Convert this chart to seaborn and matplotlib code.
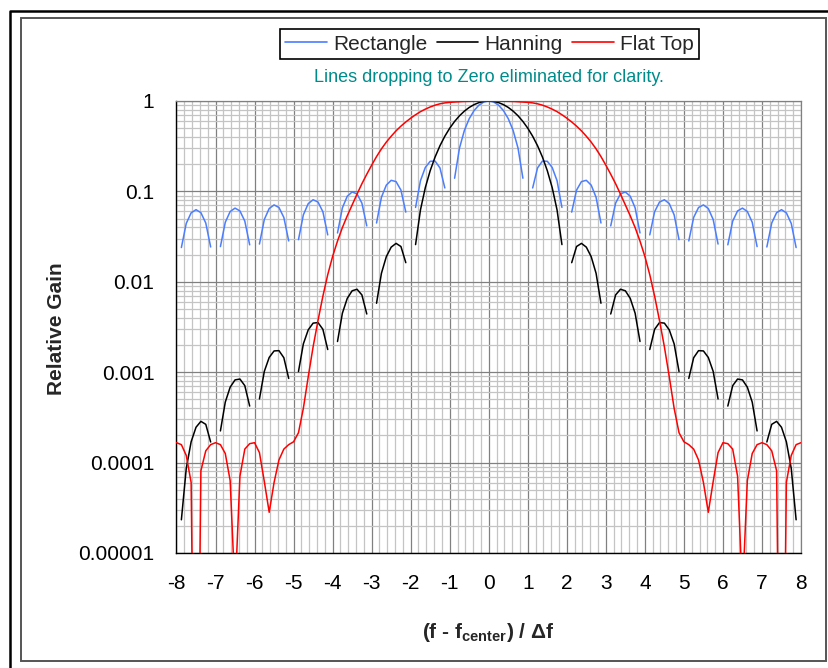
import numpy as np
import pandas as pd
import matplotlib
matplotlib.use("Agg")
import matplotlib.pyplot as plt
import seaborn as sns
from matplotlib.ticker import FixedLocator, MultipleLocator, LogLocator, NullFormatter
from matplotlib.lines import Line2D
from matplotlib.patches import Rectangle

# ---------------- data ----------------
freq = [
    -8.0, -7.875, -7.75, -7.625, -7.5, -7.375, -7.25, -7.125,
    -7.0, -6.875, -6.75, -6.625, -6.5, -6.375, -6.25, -6.125,
    -6.0, -5.875, -5.75, -5.625, -5.5, -5.375, -5.25, -5.125,
    -5.0, -4.875, -4.75, -4.625, -4.5, -4.375, -4.25, -4.125,
    -4.0, -3.875, -3.75, -3.625, -3.5, -3.375, -3.25, -3.125,
    -3.0, -2.875, -2.75, -2.625, -2.5, -2.375, -2.25, -2.125,
    -2.0, -1.875, -1.75, -1.625, -1.5, -1.375, -1.25, -1.125,
    -1.0, -0.875, -0.75, -0.625, -0.5, -0.375, -0.25, -0.125,
    0.0,
    0.125, 0.25, 0.375, 0.5, 0.625, 0.75, 0.875, 1.0,
    1.125, 1.25, 1.375, 1.5, 1.625, 1.75, 1.875, 2.0,
    2.125, 2.25, 2.375, 2.5, 2.625, 2.75, 2.875, 3.0,
    3.125, 3.25, 3.375, 3.5, 3.625, 3.75, 3.875, 4.0,
    4.125, 4.25, 4.375, 4.5, 4.625, 4.75, 4.875, 5.0,
    5.125, 5.25, 5.375, 5.5, 5.625, 5.75, 5.875, 6.0,
    6.125, 6.25, 6.375, 6.5, 6.625, 6.75, 6.875, 7.0,
    7.125, 7.25, 7.375, 7.5, 7.625, 7.75, 7.875, 8.0,
]

# None = point dropping to zero (eliminated)
rect_gain = [
    None, 0.02393, 0.04425, 0.05790, 0.06280, 0.05818, 0.04468, 0.02428,
    None, 0.02451, 0.04556, 0.05992, 0.06531, 0.06081, 0.04694, 0.02564,
    None, 0.02616, 0.04889, 0.06464, 0.07087, 0.06636, 0.05152, 0.02831,
    None, 0.02926, 0.05502, 0.07324, 0.08085, 0.07626, 0.05965, 0.03303,
    None, 0.03469, 0.06581, 0.08840, 0.09852, 0.09386, 0.07419, 0.04154,
    None, 0.0447, 0.0860, 0.1172, 0.1326, 0.1284, 0.1034, 0.0590,
    None, 0.0665, 0.1312, 0.1841, 0.2153, 0.2165, 0.1819, 0.1092,
    None, 0.1399, 0.3012, 0.4717, 0.6376, 0.7849, 0.9007, 0.9746,
    1.0,
    0.9746, 0.9007, 0.7849, 0.6376, 0.4717, 0.3012, 0.1399, None,
    0.1092, 0.1819, 0.2165, 0.2153, 0.1841, 0.1312, 0.0665, None,
    0.0590, 0.1034, 0.1284, 0.1326, 0.1172, 0.0860, 0.0447, None,
    0.04154, 0.07419, 0.09386, 0.09852, 0.08840, 0.06581, 0.03469, None,
    0.03303, 0.05965, 0.07626, 0.08085, 0.07324, 0.05502, 0.02926, None,
    0.02831, 0.05152, 0.06636, 0.07087, 0.06464, 0.04889, 0.02616, None,
    0.02564, 0.04694, 0.06081, 0.06531, 0.05992, 0.04556, 0.02451, None,
    0.02428, 0.04468, 0.05818, 0.06280, 0.05790, 0.04425, 0.02393, None,
]

hann_gain = [
    None, 0.0000233, 0.0000862, 0.000170, 0.000246, 0.000286, 0.000265, 0.000169,
    None, 0.000224, 0.000467, 0.000683, 0.000822, 0.000840, 0.000710, 0.000422,
    None, 0.000506, 0.001021, 0.001456, 0.001719, 0.001732, 0.001446, 0.000853,
    None, 0.001017, 0.002056, 0.002940, 0.003490, 0.003541, 0.002984, 0.001782,
    None, 0.002186, 0.004495, 0.006556, 0.007953, 0.008273, 0.007159, 0.004404,
    None, 0.005793, 0.01240, 0.01894, 0.02417, 0.02661, 0.02457, 0.01628,
    None, 0.02580, 0.06232, 0.1103, 0.1697, 0.2401, 0.3201, 0.4076,
    0.5, 0.5940, 0.6860, 0.7722, 0.8488, 0.9125, 0.9604, 0.9900,
    1.0,
    0.9900, 0.9604, 0.9125, 0.8488, 0.7722, 0.6860, 0.5940, 0.5,
    0.4076, 0.3201, 0.2401, 0.1697, 0.1103, 0.06232, 0.02580, None,
    0.01628, 0.02457, 0.02661, 0.02417, 0.01894, 0.01240, 0.005793, None,
    0.004404, 0.007159, 0.008273, 0.007953, 0.006556, 0.004495, 0.002186, None,
    0.001782, 0.002984, 0.003541, 0.003490, 0.002940, 0.002056, 0.001017, None,
    0.000853, 0.001446, 0.001732, 0.001719, 0.001456, 0.001021, 0.000506, None,
    0.000422, 0.000710, 0.000840, 0.000822, 0.000683, 0.000467, 0.000224, None,
    0.000169, 0.000265, 0.000286, 0.000246, 0.000170, 0.0000862, 0.0000233, None,
]

flat_gain = [
    0.000166, 0.000158, 0.000120, 0.0000603, 1e-9, 0.0000813, 0.000135, 0.000158,
    0.000166, 0.000158, 0.000126, 0.0000631, 0.0000035, 0.0000708, 0.000141, 0.000162,
    0.000166, 0.000129, 0.0000617, 0.0000282, 0.0000603, 0.000107, 0.000141, 0.000158,
    0.000170, 0.000214, 0.000398, 0.000891, 0.00191, 0.00372, 0.00692, 0.0120,
    0.0191, 0.0282, 0.0398, 0.0537, 0.0708, 0.0933, 0.1216, 0.1549,
    0.1950, 0.2427, 0.2951, 0.3508, 0.4074, 0.4677, 0.5272, 0.5861,
    0.6457, 0.7047, 0.7621, 0.8128, 0.8590, 0.8995, 0.9311, 0.9528,
    0.9661, 0.9750, 0.9817, 0.9886, 0.9920, 0.9954, 0.9977, 0.9993,
    1.0,
    0.9993, 0.9977, 0.9954, 0.9920, 0.9886, 0.9817, 0.9750, 0.9661,
    0.9528, 0.9311, 0.8995, 0.8590, 0.8128, 0.7621, 0.7047, 0.6457,
    0.5861, 0.5272, 0.4677, 0.4074, 0.3508, 0.2951, 0.2427, 0.1950,
    0.1549, 0.1216, 0.0933, 0.0708, 0.0537, 0.0398, 0.0282, 0.0191,
    0.0120, 0.00692, 0.00372, 0.00191, 0.000891, 0.000398, 0.000214, 0.000170,
    0.000158, 0.000141, 0.000107, 0.0000603, 0.0000282, 0.0000617, 0.000129, 0.000166,
    0.000162, 0.000141, 0.0000708, 0.0000035, 0.0000631, 0.000126, 0.000158, 0.000166,
    0.000158, 0.000135, 0.0000813, 1e-9, 0.0000603, 0.000120, 0.000158, 0.000166,
]

series_names = ["Rectangle", "Hanning", "Flat Top"]
series_colors = ["#4a7dff", "#000000", "#ff0000"]
x_tick_labels = ["-8", "-7", "-6", "-5", "-4", "-3", "-2", "-1", "0",
                 "1", "2", "3", "4", "5", "6", "7", "8"]
y_tick_values = [1e-5, 1e-4, 1e-3, 1e-2, 1e-1, 1]
y_tick_labels = ["0.00001", "0.0001", "0.001", "0.01", "0.1", "1"]


def to_frame(name, gains):
    rows, seg = [], 0
    for f, g in zip(freq, gains):
        if g is None:
            seg += 1
            continue
        rows.append({"freq": f, "gain": g, "seg": seg, "window": name})
    return pd.DataFrame(rows)


frames = [to_frame(n, g) for n, g in zip(series_names, [rect_gain, hann_gain, flat_gain])]

# ---------------- figure ----------------
sns.set_style("white")
plt.rcParams["font.family"] = ["Liberation Sans", "DejaVu Sans"]
plt.rcParams["mathtext.fontset"] = "custom"
plt.rcParams["mathtext.rm"] = "Liberation Sans:bold"
plt.rcParams["mathtext.it"] = "Liberation Sans:bold"
plt.rcParams["mathtext.bf"] = "Liberation Sans:bold"
plt.rcParams["mathtext.default"] = "rm"

W, H = 829, 668
fig = plt.figure(figsize=(W / 100, H / 100), dpi=100)
fig.patch.set_facecolor("white")

x0, x1, y_top, y_bot = 176.5, 801, 101, 553
ax = fig.add_axes([x0 / W, 1 - y_bot / H, (x1 - x0) / W, (y_bot - y_top) / H])
ax.set_yscale("log")

for df, c in zip(frames, series_colors):
    sns.lineplot(data=df, x="freq", y="gain", units="seg", estimator=None,
                 color=c, linewidth=1.1, ax=ax, legend=False, zorder=3)

ax.set_xlim(-8, 8)
ax.set_ylim(1e-5, 1)
ax.set_xlabel("")
ax.set_ylabel("")

ax.xaxis.set_major_locator(FixedLocator(list(range(-8, 9))))
ax.set_xticklabels(x_tick_labels)
ax.xaxis.set_minor_locator(MultipleLocator(0.2))
ax.yaxis.set_major_locator(FixedLocator(y_tick_values))
ax.set_yticklabels(y_tick_labels)
ax.yaxis.set_minor_locator(LogLocator(base=10, subs=[2, 3, 4, 5, 6, 7, 8, 9]))
ax.yaxis.set_minor_formatter(NullFormatter())

ax.set_axisbelow(True)
ax.grid(which="minor", color="#c4c4c4", linewidth=0.9)
ax.grid(which="major", color="#808080", linewidth=0.9)

ax.tick_params(axis="both", which="major", direction="out", length=6, width=1,
               color="black", labelsize=15, labelcolor="black")
ax.tick_params(axis="x", which="major", pad=9)
ax.tick_params(axis="y", which="major", pad=10)
ax.tick_params(axis="both", which="minor", length=0)

for side in ["left", "bottom"]:
    ax.spines[side].set_color("black")
    ax.spines[side].set_linewidth(1.0)
for side in ["top", "right"]:
    ax.spines[side].set_color("#808080")
    ax.spines[side].set_linewidth(0.9)

# axis titles
fig.text(57 / W, 1 - 329 / H, "Relative Gain", rotation=90, ha="center", va="center",
         fontsize=15, fontweight="bold")
fig.text(488.5 / W, 1 - 632 / H, r"(f - f$_{center}$) / Δf", ha="center", va="center",
         fontsize=15, fontweight="bold")

# legend
handles = [Line2D([0], [0], color=c, linewidth=1.2) for c in series_colors]
leg = fig.legend(handles, series_names, loc="center", bbox_to_anchor=(489.5 / W, 1 - 44 / H),
                 ncol=3, frameon=True, fancybox=False, edgecolor="black", framealpha=1,
                 fontsize=15, handlelength=2.0, handletextpad=0.3, columnspacing=0.45,
                 borderpad=0.25, borderaxespad=0)
leg.get_frame().set_linewidth(1.2)

fig.text(489 / W, 1 - 77 / H, "Lines dropping to Zero eliminated for clarity.",
         ha="center", va="center", fontsize=13, color="#008b8b")

# chart frames
fig.add_artist(Line2D([10.5 / W, 10.5 / W, 1.0], [0.0, 1 - 10.5 / H, 1 - 10.5 / H],
                      transform=fig.transFigure, color="black", linewidth=1.8))
fig.add_artist(Rectangle((21 / W, 1 - 661 / H), (826 - 21) / W, (661 - 18) / H,
                         transform=fig.transFigure, fill=False, edgecolor="#555555",
                         linewidth=1.4))

fig.savefig("out.png", dpi=100, facecolor="white")
